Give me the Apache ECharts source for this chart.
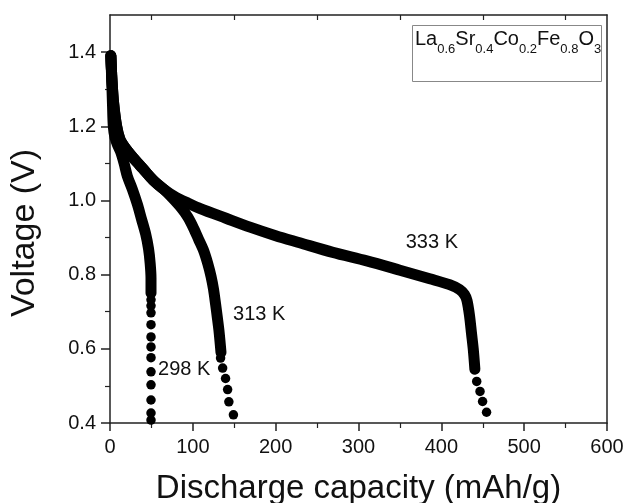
<!DOCTYPE html>
<html>
<head>
<meta charset="utf-8">
<script src="https://cdn.jsdelivr.net/npm/echarts@6/dist/echarts.min.js"></script>
<style>
  html, body { margin: 0; padding: 0; background: #fff; }
  #chart { width: 628px; height: 503px; }
</style>
</head>
<body>
<div id="chart"></div>
<script>
// Discharge curves of La0.6Sr0.4Co0.2Fe0.8O3 at three temperatures.
// Each curve: [capacity (mAh/g), voltage (V)]. The dense run of readings is
// drawn as a continuous thick trace, the sparse readings at the end as dots.
const temperatures = ['298 K', '313 K', '333 K'];

const dense298 = [
  [1, 1.39], [2, 1.33], [3, 1.26], [4, 1.20], [6, 1.17], [9, 1.15], [13, 1.13],
  [17, 1.10], [21, 1.065], [27, 1.03], [33, 0.99], [38, 0.95], [43, 0.91],
  [46.5, 0.87], [48.5, 0.83], [49.5, 0.79], [49.5, 0.75]
];
const tail298 = [
  [49.5, 0.732], [49.5, 0.716], [49.5, 0.697], [49.5, 0.665], [49.5, 0.632],
  [49.5, 0.605], [49.5, 0.576], [49.5, 0.538], [49.5, 0.503], [49.5, 0.462],
  [49.5, 0.427], [49.5, 0.408]
];

const dense313 = [
  [1, 1.39], [2.5, 1.32], [4.5, 1.26], [8, 1.20], [12, 1.165], [18, 1.143],
  [28, 1.115], [40, 1.085], [52, 1.055], [65, 1.03], [76, 1.005], [86, 0.98],
  [94, 0.955], [101, 0.925], [107, 0.895], [113, 0.865], [118, 0.83],
  [122, 0.795], [125, 0.76], [127.5, 0.72], [129.5, 0.686], [131.5, 0.65],
  [133, 0.615], [134, 0.59]
];
const tail313 = [
  [133.5, 0.575], [136, 0.548], [139.5, 0.52], [142, 0.49], [143.5, 0.457],
  [149, 0.422]
];

const dense333 = [
  [1, 1.39], [2.5, 1.32], [4.5, 1.26], [8, 1.20], [12, 1.165], [18, 1.143],
  [28, 1.115], [40, 1.085], [52, 1.055], [65, 1.03], [80, 1.008], [95, 0.992],
  [109, 0.978], [140, 0.952], [169, 0.928], [200, 0.905], [229, 0.886],
  [269, 0.86], [310, 0.837], [350, 0.812], [386, 0.789], [410, 0.773],
  [422, 0.76], [428, 0.746], [431, 0.73], [434, 0.69], [436.5, 0.64],
  [438.5, 0.60], [440.5, 0.545]
];
const tail333 = [
  [442.7, 0.512], [446.7, 0.485], [449.8, 0.458], [454.6, 0.429]
];

const xTicks = [0, 100, 200, 300, 400, 500, 600];
const xTopTicks = [50, 150, 250, 350, 450, 550];
const yTicks = [0.4, 0.6, 0.8, 1.0, 1.2, 1.4];
const yMinorTicks = [0.5, 0.7, 0.9, 1.1, 1.3];

const FONT = "'Liberation Sans', Arial, Helvetica, sans-serif";
const INK = '#111';
const AXIS = '#222';

const chart = echarts.init(document.getElementById('chart'), null, { renderer: 'canvas' });

const axisLine = { show: true, onZero: false, lineStyle: { color: AXIS, width: 1.5 } };

function traceSeries(data, labelText, labelCoord) {
  return {
    type: 'line',
    data: data,
    xAxisIndex: 0,
    yAxisIndex: 0,
    symbol: 'none',
    showSymbol: false,
    smooth: 0.3,
    silent: true,
    lineStyle: { color: '#000', width: 11, cap: 'round', join: 'round' },
    markPoint: {
      symbol: 'circle',
      symbolSize: 0,
      silent: true,
      data: [{
        coord: labelCoord,
        label: {
          show: true, position: 'right', distance: 0,
          formatter: labelText, fontSize: 20, color: INK, fontFamily: FONT
        }
      }]
    }
  };
}

function dotSeries(data) {
  return {
    type: 'scatter',
    data: data,
    xAxisIndex: 0,
    yAxisIndex: 0,
    symbol: 'circle',
    symbolSize: 9.5,
    silent: true,
    itemStyle: { color: '#000', opacity: 1 }
  };
}

const option = {
  animation: false,
  backgroundColor: '#fff',
  textStyle: { fontFamily: FONT },
  title: {
    text: '{m|La}{s|0.6}{m|Sr}{s|0.4}{m|Co}{s|0.2}{m|Fe}{s|0.8}{m|O}{s|3}',
    left: 415,
    top: 29,
    padding: 0,
    textStyle: {
      fontWeight: 'normal',
      rich: {
        m: { fontSize: 20, lineHeight: 20, verticalAlign: 'top', color: INK,
          fontFamily: FONT, fontWeight: 'normal' },
        s: { fontSize: 13, lineHeight: 13, verticalAlign: 'top', color: INK,
          fontFamily: FONT, fontWeight: 'normal', padding: [14, 0, 0, 0] }
      }
    }
  },
  graphic: [{
    type: 'rect',
    shape: { x: 412.5, y: 25.5, width: 189, height: 56 },
    style: { fill: 'none', stroke: '#888', lineWidth: 1 },
    silent: true
  }],
  grid: { left: 110, right: 21, top: 15, bottom: 80, outerBoundsMode: 'none', containLabel: false },
  xAxis: [
    {
      type: 'value', min: 0, max: 600, interval: 100, position: 'bottom',
      axisLine: axisLine,
      axisTick: { show: true, length: 8, lineStyle: { color: AXIS, width: 1.5 } },
      minorTick: { show: true, splitNumber: 2, length: 5, lineStyle: { color: AXIS, width: 1.2 } },
      splitLine: { show: false },
      minorSplitLine: { show: false },
      axisLabel: { fontSize: 20, color: INK, margin: 14, fontFamily: FONT,
        customValues: xTicks },
      name: 'Discharge capacity (mAh/g)',
      nameLocation: 'middle',
      nameGap: 49,
      nameTextStyle: { fontSize: 33, color: INK, fontFamily: FONT }
    },
    {
      type: 'value', min: 0, max: 600, position: 'top',
      axisLine: axisLine,
      axisTick: { show: true, inside: true, length: 5, customValues: xTopTicks,
        lineStyle: { color: AXIS, width: 1.2 } },
      axisLabel: { show: false },
      splitLine: { show: false }
    }
  ],
  yAxis: [
    {
      type: 'value', min: 0.4, max: 1.5, position: 'left',
      axisLine: axisLine,
      axisTick: { show: true, length: 9, customValues: yTicks,
        lineStyle: { color: AXIS, width: 1.5 } },
      axisLabel: { fontSize: 20, color: INK, margin: 14, fontFamily: FONT,
        customValues: yTicks, formatter: v => Number(v).toFixed(1) },
      splitLine: { show: false },
      name: 'Voltage (V)',
      nameLocation: 'middle',
      nameGap: 68,
      nameTextStyle: { fontSize: 34, color: INK, fontFamily: FONT, padding: [0, 28, 0, 0] }
    },
    {
      type: 'value', min: 0.4, max: 1.5, position: 'left',
      axisLine: { show: false, onZero: false },
      axisTick: { show: true, length: 5, customValues: yMinorTicks,
        lineStyle: { color: AXIS, width: 1.2 } },
      axisLabel: { show: false },
      splitLine: { show: false }
    },
    {
      type: 'value', min: 0.4, max: 1.5, position: 'right',
      axisLine: axisLine,
      axisTick: { show: false },
      axisLabel: { show: false },
      splitLine: { show: false }
    }
  ],
  series: [
    traceSeries(dense298, temperatures[0], [58, 0.544]),
    dotSeries(tail298),
    traceSeries(dense313, temperatures[1], [148.5, 0.693]),
    dotSeries(tail313),
    traceSeries(dense333, temperatures[2], [357, 0.888]),
    dotSeries(tail333)
  ]
};

chart.setOption(option);
</script>
</body>
</html>
